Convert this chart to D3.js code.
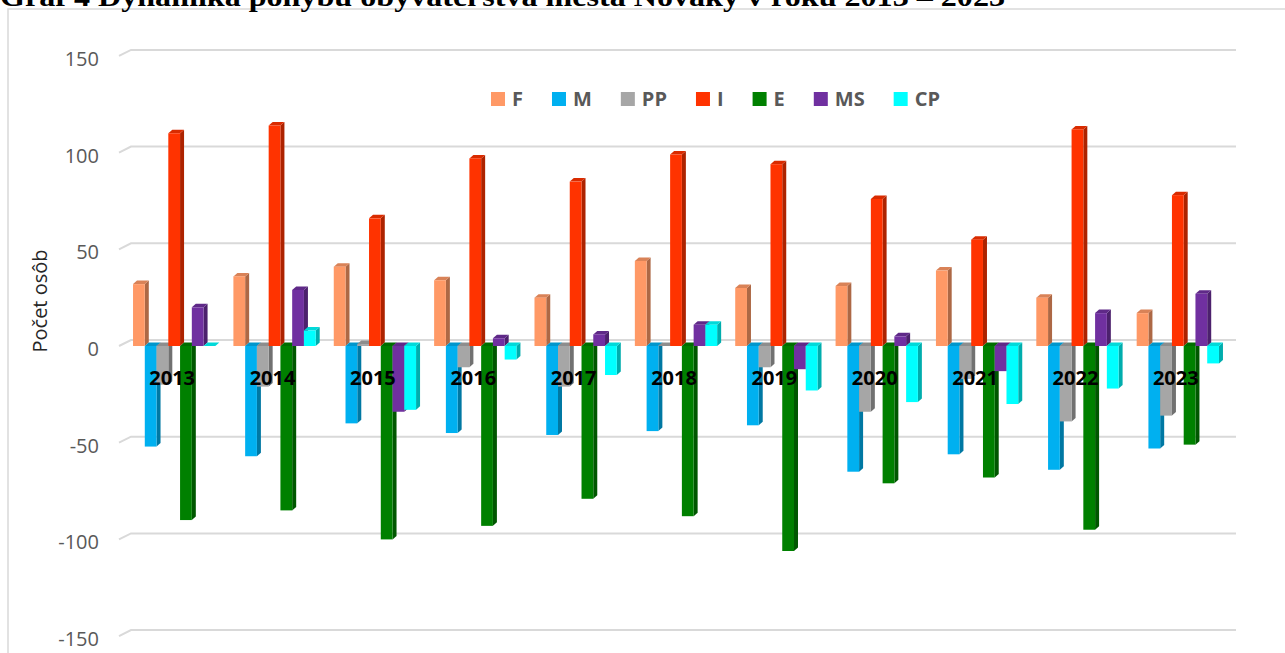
<!DOCTYPE html>
<html>
<meta charset="utf-8">

<style>
body{
	margin:0;
	background:#fff;
}
svg{
	display:block;
	font-family:"Open Sans", sans-serif;
}
.grid path {
  fill: none;
  stroke: #d9d9d9;
  stroke-width: 2;
}
.yaxis text {
  fill: #595959;
  font-size: 20px;
}
.legend text {
  fill: #595959;
  font-size: 20px;
  font-weight: bold;
}
.cat {
  font-size: 20px;
  font-weight: bold;
  fill: #000;
  text-anchor: middle;
}
</style>

<body>
	<svg width="1285" height="653"></svg>
	<script src="https://cdn.jsdelivr.net/npm/d3@7/dist/d3.min.js"></script>

<script>

// data
var years = ["2013","2014","2015","2016","2017","2018","2019","2020","2021","2022","2023"];
var seriesNames = ["F","M","PP","I","E","MS","CP"];
var seriesColors = ["#ff9966","#00b0f0","#a6a6a6","#ff3300","#008000","#7030a0","#00ffff"];

var F  = [32, 36, 41, 34, 25, 44, 30, 31, 39, 25, 17];
var M  = [-52, -57, -40, -45, -46, -44, -41, -65, -56, -64, -53];
var PP = [-20, -21, 1, -11, -21, 0, -11, -34, -17, -39, -36];
var I  = [110, 114, 66, 97, 85, 99, 94, 76, 55, 112, 78];
var E  = [-90, -85, -100, -93, -79, -88, -106, -71, -68, -95, -51];
var MS = [20, 29, -34, 4, 6, 11, -12, 5, -13, 17, 27];
var CP = [0, 8, -33, -7, -15, 11, -23, -29, -30, -22, -9];

var yTicks = [-150, -100, -50, 0, 50, 100, 150];

var values = [F, M, PP, I, E, MS, CP];

var svg = d3.select("svg");

// outer frame of the chart
svg.append("rect")
    .attr("x", 8).attr("y", 9)
    .attr("width", 1400).attr("height", 700)
    .attr("fill", "none")
    .attr("stroke", "#d9d9d9")
    .attr("stroke-width", 1.5);

// caption above (cut off by the page top, as in the source)
svg.append("text")
    .attr("x", 0).attr("y", 6)
    .attr("textLength", 1005)
    .attr("lengthAdjust", "spacingAndGlyphs")
    .style("font-family", "'Liberation Serif', 'Times New Roman', serif")
    .style("font-weight", "bold")
    .style("font-size", "27px")
    .text("Graf 4 Dynamika pohybu obyvateľstva mesta Nováky v roku 2013 – 2023");

var y = d3.scaleLinear()
    .domain([-150, 150])
    .range([346 + 290.1, 346 - 290.1]);

var x = d3.scaleBand()
    .domain(years)
    .range([124, 1228])
    .paddingInner(0.18)
    .paddingOuter(0.09);

var xs = d3.scaleBand()
    .domain(seriesNames)
    .range([0, x.bandwidth()]);

var depthX = 4, depthY = 3.5;   // 3d offset of bar faces
var wallX = 12, wallY = 6;      // back wall offset

// gridlines on the back wall with the floor edge
svg.append("g").attr("class", "grid")
  .selectAll("path")
  .data(yTicks)
  .enter().append("path")
    .attr("d", function(d) {
      return "M119," + y(d) + "L" + (119 + wallX) + "," + (y(d) - wallY) + "H1236";
    });

// y axis labels
var yAxis = svg.append("g")
    .attr("class", "yaxis")
    .attr("transform", "translate(104,3)")
    .call(d3.axisLeft(y).tickValues(yTicks).tickSize(0).tickPadding(5)
      .tickFormat(function(d) { return String(d); }));
yAxis.select(".domain").remove();
yAxis.selectAll("text").style("font-family", "'Open Sans', sans-serif");

svg.append("text")
    .attr("transform", "translate(40,301) rotate(-90)")
    .attr("text-anchor", "middle")
    .attr("dy", "0.35em")
    .style("font-size", "20px")
    .style("fill", "#262626")
    .text("Počet osôb");

function shade(c, k) {
  var col = d3.rgb(c);
  return d3.rgb(col.r * k, col.g * k, col.b * k).toString();
}

// bars
years.forEach(function(yr, i) {
  var g = svg.append("g").attr("transform", "translate(" + x(yr) + ",0)");
  seriesNames.forEach(function(s, j) {
    var v = values[j][i],
        bx = xs(s),
        w = xs.bandwidth(),
        top = y(Math.max(v, 0)),
        bot = y(Math.min(v, 0)),
        col = seriesColors[j];

    g.append("path")
        .attr("d", "M" + (bx + w) + "," + top + "L" + (bx + w + depthX) + "," + (top - depthY) +
                   "L" + (bx + w + depthX) + "," + (bot - depthY) + "L" + (bx + w) + "," + bot + "Z")
        .attr("fill", shade(col, 0.68));
    g.append("path")
        .attr("d", "M" + bx + "," + top + "L" + (bx + depthX) + "," + (top - depthY) +
                   "L" + (bx + w + depthX) + "," + (top - depthY) + "L" + (bx + w) + "," + top + "Z")
        .attr("fill", shade(col, 0.85));
    g.append("rect")
        .attr("x", bx).attr("y", top)
        .attr("width", w).attr("height", Math.max(bot - top, 0))
        .attr("fill", col);
  });
});

// category labels
svg.selectAll(".cat")
    .data(years)
    .enter().append("text")
      .attr("class", "cat")
      .attr("x", function(d) { return x(d) + x.bandwidth() / 2 - 2; })
      .attr("y", 385)
      .text(function(d) { return d; });

// legend
var legend = svg.append("g").attr("class", "legend");
var lx = 491;
seriesNames.forEach(function(s, j) {
  legend.append("rect")
      .attr("x", lx).attr("y", 92)
      .attr("width", 14).attr("height", 14)
      .attr("fill", seriesColors[j]);
  var t = legend.append("text")
      .attr("x", lx + 21).attr("y", 106)
      .text(s);
  lx += 21 + t.node().getComputedTextLength() + 29;
});

</script>

</body>
</html>
